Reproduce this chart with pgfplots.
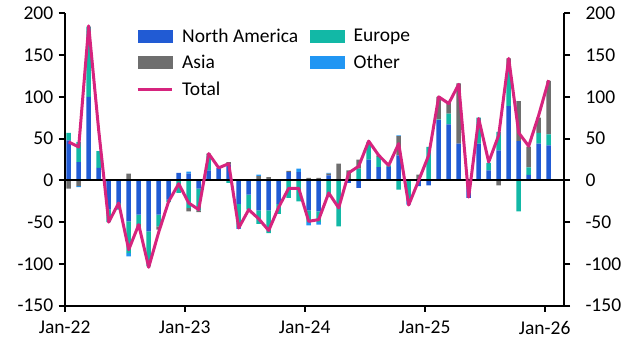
\documentclass[border=0pt]{standalone}
\usepackage{fontspec}
\setmainfont{Carlito}
\usepackage{pgfplots}
\usepackage{pgfplotstable}
\pgfplotsset{compat=1.18}
\definecolor{cNA}{RGB}{33,91,212}
\definecolor{cEU}{RGB}{18,184,166}
\definecolor{cAS}{RGB}{110,110,110}
\definecolor{cOT}{RGB}{33,150,243}
\definecolor{cTOT}{RGB}{214,36,126}

\pgfplotstableread{
x na eu as ot tot
0.4 48 9 -10 0 46
1.4 22 24 -7 -1 40
2.4 100 84 0 0 185
3.4 15 20 0 0 60
4.4 -35 -15 0 0 -50
5.4 -27 -8 0 0 -27
6.4 -49 -38 8 -4 -83
7.4 -41 -11 -7 0 -53
8.4 -61 -42 0 0 -104
9.4 -41 -14 -4 0 -62
10.4 -23 -3 0 0 -25
11.4 9 -15 0 0 -4
12.4 8 -33 -4 2.5 -27
13.4 -10 -26 -2 0 -35
14.4 12 18 2 0 32
15.4 15 0 0 0 15
16.4 19 -3 3 0 20
17.4 -28 -28 0 -2 -57
18.4 -17 -18 0 0 -35
19.4 -36 -16 5 2 -46
20.4 -36 -27 4 0 -60
21.4 -28 -12 0 0 -32
22.4 10 -21 1.5 0 -9.5
23.4 10 -25 0 4 -9.5
24.4 -36 -14 3 -4 -49
25.4 -37 -13 3 -3 -47
26.4 6 -20 2 1 -15
27.4 0 -55 20 0 -33
28.4 -3 0 12 0 9
29.4 -9 14 11 0 17
30.4 25 21 0 0 47
31.4 16 12 2 0 30
32.4 16 2 0 0 18
33.4 30 -11 23 1 44
34.4 0 -23 0 -6 -29.5
35.4 -7 0 7 0 0
36.4 -6 40 0 0 30
37.4 72 1 27 0 100
38.4 67 13 14 0 92
39.4 44 0 72 0 115
40.4 -21 0 0 0 -20
41.4 44 31 0 0 74
42.4 12 9 0 0 22
43.4 36 22 -6 0 54
44.4 89 43 14 0 146
45.4 47 -37 48 0 57
46.4 6.5 9 25 0 41
47.4 44 13 18 0 78
48.4 42 13 64 0 120
}\data

\pgfplotsset{
  base/.style={
    scale only axis, width=499.3bp, height=292.4bp,
    xmin=0, xmax=49.93, ymin=-150, ymax=200,
    ytick={-150,-100,...,200},
    axis line style={line width=2.2bp, black},
    tick style={line width=1.8bp, black},
    major tick length=6bp, tick align=outside,
    /pgf/number format/assume math mode=true,
    tick label style={font=\fontsize{19.5bp}{23bp}\selectfont},
  },
  bars/.style={base, ybar stacked, bar width=0.45},
}

\begin{document}
\begin{tikzpicture}[font=\fontsize{19.5bp}{23bp}\selectfont]
\begin{axis}[bars, name=A,
    axis x line*=bottom, axis y line*=left,
    xtick={0,12,24,36,48},
    xticklabels={Jan-22,Jan-23,Jan-24,Jan-25,Jan-26},
    xticklabel style={yshift=-6bp},
    yticklabel style={xshift=-2bp},
  ]
  \addplot[fill=cNA, draw=none] table[x=x, y expr={max(\thisrow{na},0)}] {\data};
  \addplot[fill=cEU, draw=none] table[x=x, y expr={max(\thisrow{eu},0)}] {\data};
  \addplot[fill=cAS, draw=none] table[x=x, y expr={max(\thisrow{as},0)}] {\data};
  \addplot[fill=cOT, draw=none] table[x=x, y expr={max(\thisrow{ot},0)}] {\data};
\end{axis}
\begin{axis}[bars,
    axis x line=none, axis y line*=right,
    yticklabel style={xshift=12bp},
  ]
  \addplot[fill=cNA, draw=none] table[x=x, y expr={min(\thisrow{na},0)}] {\data};
  \addplot[fill=cEU, draw=none] table[x=x, y expr={min(\thisrow{eu},0)}] {\data};
  \addplot[fill=cAS, draw=none] table[x=x, y expr={min(\thisrow{as},0)}] {\data};
  \addplot[fill=cOT, draw=none] table[x=x, y expr={min(\thisrow{ot},0)}] {\data};
\end{axis}
\begin{axis}[base, axis lines=none,
    legend style={at={(rel axis cs:0.1428,0.955)}, anchor=north west,
      draw=none, fill=none, inner sep=0pt,
      font=\fontsize{19.5bp}{23bp}\selectfont,
      /tikz/every odd column/.append style={column sep=7bp},
      /tikz/every even column/.append style={column sep=10bp},
      row sep=7.5bp},
    legend columns=2, legend cell align=left,
  ]
  \addlegendimage{legend image code/.code={\fill[cNA] (0bp,-6bp) rectangle (34bp,6bp);}}
  \addlegendentry{North America}
  \addlegendimage{legend image code/.code={\fill[cEU] (0bp,-6bp) rectangle (34bp,6bp);}}
  \addlegendentry{Europe}
  \addlegendimage{legend image code/.code={\fill[cAS] (0bp,-6bp) rectangle (34bp,6bp);}}
  \addlegendentry{Asia}
  \addlegendimage{legend image code/.code={\fill[cOT] (0bp,-6bp) rectangle (34bp,6bp);}}
  \addlegendentry{Other}
  \addplot[black, line width=2.2bp, forget plot] coordinates {(0,0) (49.93,0)};
  \addplot[cTOT, line width=3bp, line join=round, mark=none,
    legend image code/.code={\draw[cTOT, line width=3bp] (0bp,0bp) -- (34bp,0bp);}]
    table[x=x, y=tot] {\data};
  \addlegendentry{Total}
\end{axis}
\path (A.south west) ++(-64.7bp,-54.3bp) rectangle ++(634bp,360bp);
\end{tikzpicture}
\end{document}
